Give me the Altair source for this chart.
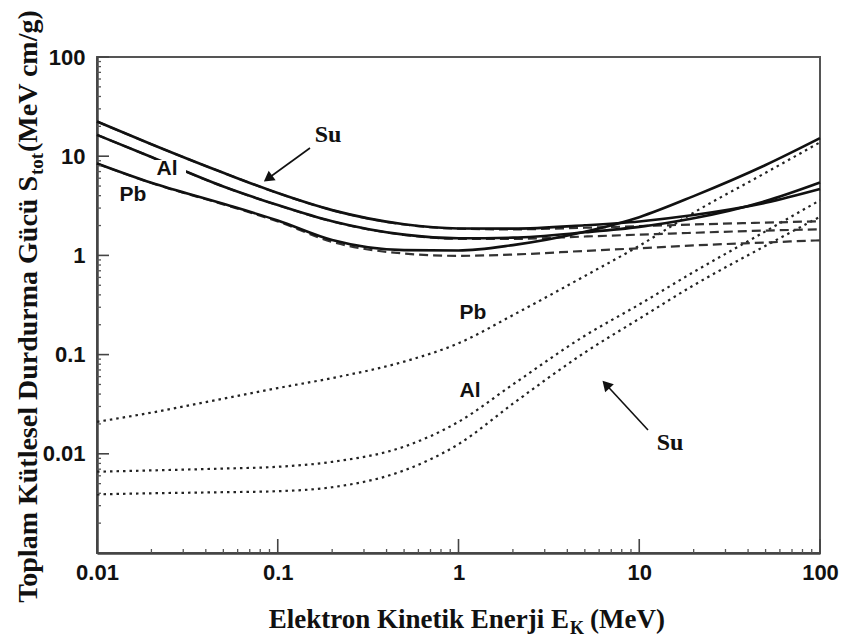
import altair as alt
import pandas as pd

# Electron kinetic energy grid (MeV)
energy = [0.01, 0.02, 0.05, 0.1, 0.2, 0.5, 1, 2, 5, 10, 20, 50, 100]

# Water (Su)
su_total = [22.4, 13.2, 6.8, 4.25, 2.86, 2.06, 1.87, 1.86, 2.01, 2.20, 2.55, 3.39, 4.66]
su_col = [22.4, 13.2, 6.8, 4.25, 2.855, 2.05, 1.86, 1.83, 1.90, 1.97, 2.05, 2.14, 2.21]
su_rad = [0.0039, 0.0040, 0.0041, 0.0042, 0.0046, 0.0068, 0.0125, 0.032, 0.105, 0.23, 0.50, 1.25, 2.45]
# Aluminium (Al)
al_total = [16.4, 9.8, 4.95, 3.22, 2.21, 1.62, 1.49, 1.51, 1.71, 1.94, 2.37, 3.53, 5.43]
al_col = [16.4, 9.8, 4.94, 3.21, 2.20, 1.61, 1.47, 1.465, 1.55, 1.62, 1.69, 1.78, 1.83]
al_rad = [0.0066, 0.0068, 0.0071, 0.0074, 0.0083, 0.0118, 0.021, 0.050, 0.155, 0.32, 0.68, 1.75, 3.6]
# Lead (Pb)
pb_total = [8.45, 5.40, 3.31, 2.25, 1.43, 1.13, 1.12, 1.27, 1.73, 2.43, 3.96, 8.15, 15.2]
pb_col = [8.43, 5.37, 3.27, 2.20, 1.37, 1.045, 0.99, 1.02, 1.11, 1.18, 1.26, 1.35, 1.42]
pb_rad = [0.021, 0.026, 0.036, 0.046, 0.058, 0.085, 0.13, 0.25, 0.62, 1.25, 2.7, 6.8, 13.8]

x_ticks = [0.01, 0.1, 1, 10, 100]
y_ticks = [0.01, 0.1, 1, 10, 100]

series = {
    ("Su", "total"): su_total, ("Su", "col"): su_col, ("Su", "rad"): su_rad,
    ("Al", "total"): al_total, ("Al", "col"): al_col, ("Al", "rad"): al_rad,
    ("Pb", "total"): pb_total, ("Pb", "col"): pb_col, ("Pb", "rad"): pb_rad,
}
rows = []
for (mat, kind), vals in series.items():
    for e, s in zip(energy, vals):
        rows.append({"E": e, "S": s, "material": mat, "kind": kind})
df = pd.DataFrame(rows)

W, H = 723, 496
xscale = alt.Scale(type="log", domain=[0.01, 100], nice=False)
yscale = alt.Scale(type="log", domain=[0.001, 100], nice=False)

LABEL_FONT = "Liberation Sans"
TITLE_FONT = "Liberation Serif"

xaxis = alt.Axis(values=x_ticks, ticks=False, grid=False, title=None,
                 labelExpr="datum.value + ''", labelFont=LABEL_FONT,
                 labelFontWeight="bold", labelFontSize=22, labelColor="#111",
                 labelPadding=9, domainColor="#444", domainWidth=2.5,
                 labelOverlap=False, labelFlush=False)
yaxis = alt.Axis(values=y_ticks, ticks=False, grid=False, title=None,
                 labelExpr="datum.value + ''", labelFont=LABEL_FONT,
                 labelFontWeight="bold", labelFontSize=22, labelColor="#111",
                 labelPadding=12, domainColor="#444", domainWidth=2.5,
                 labelOverlap=False, labelFlush=False)

base = alt.Chart(df)


def curve(kind, width, color, dash=None):
    kw = dict(strokeWidth=width, color=color, interpolate="monotone")
    if dash is not None:
        kw["strokeDash"] = dash
    return base.transform_filter(alt.datum.kind == kind).mark_line(**kw).encode(
        x=alt.X("E:Q", scale=xscale, axis=xaxis),
        y=alt.Y("S:Q", scale=yscale, axis=yaxis),
        detail="material:N",
    )


dotted = curve("rad", 2.2, "#222", [2.5, 4])
dashed = curve("col", 2.2, "#333", [9, 5])
solid = curve("total", 2.6, "#111")

# inward axis ticks
x_minor = [k * 10 ** d for d in range(-2, 2) for k in range(2, 10)]
y_minor = [k * 10 ** d for d in range(-3, 2) for k in range(2, 10)]

xt_major = alt.Chart(pd.DataFrame({"v": x_ticks})).mark_rule(color="#444", strokeWidth=1.6).encode(
    x=alt.X("v:Q", scale=xscale, axis=xaxis), y=alt.value(H), y2=alt.value(H - 14))
xt_minor = alt.Chart(pd.DataFrame({"v": x_minor})).mark_rule(color="#555", strokeWidth=1.3).encode(
    x=alt.X("v:Q", scale=xscale, axis=xaxis), y=alt.value(H), y2=alt.value(H - 4))
yt_major = alt.Chart(pd.DataFrame({"v": y_ticks})).mark_rule(color="#444", strokeWidth=1.6).encode(
    y=alt.Y("v:Q", scale=yscale, axis=yaxis), x=alt.value(0), x2=alt.value(12))
yt_minor = alt.Chart(pd.DataFrame({"v": y_minor})).mark_rule(color="#555", strokeWidth=1.3).encode(
    y=alt.Y("v:Q", scale=yscale, axis=yaxis), x=alt.value(0), x2=alt.value(4))

dummy = alt.Chart(pd.DataFrame({"d": [0]}))


def label(txt, x, y, font, size, **kw):
    return dummy.mark_text(font=font, fontWeight="bold", fontSize=size, color="#111", **kw).encode(
        x=alt.value(x), y=alt.value(y), text=alt.value(txt))


def arrow(x1, y1, x2, y2, hx, hy, ang):
    line = dummy.mark_rule(color="#111", strokeWidth=1.6).encode(
        x=alt.value(x1), y=alt.value(y1), x2=alt.value(x2), y2=alt.value(y2))
    head = dummy.mark_point(shape="triangle-up", filled=True, size=140, angle=ang,
                            color="#111", opacity=1).encode(x=alt.value(hx), y=alt.value(hy))
    return line + head


# white gap behind the "Al" label on the solid Al curve
gap = dummy.mark_rect(color="white").encode(
    x=alt.value(54), x2=alt.value(89), y=alt.value(103), y2=alt.value(121))

annotations = [
    gap,
    label("Al", 70, 112, LABEL_FONT, 21, baseline="middle"),
    label("Pb", 36, 138, LABEL_FONT, 21, baseline="middle"),
    label("Su", 231, 78, TITLE_FONT, 24, baseline="middle"),
    arrow(213, 91, 171, 121.5, 171, 121.5, 234),
    label("Pb", 376, 256, LABEL_FONT, 21, baseline="middle"),
    label("Al", 373, 334, LABEL_FONT, 21, baseline="middle"),
    label("Su", 573, 386, TITLE_FONT, 24, baseline="middle"),
    arrow(551, 373, 509, 327.5, 509, 327.5, 317),
    # x-axis title with subscript
    label("Elektron Kinetik Enerji E", 472, 571, TITLE_FONT, 27, align="right", baseline="alphabetic"),
    label("K", 473, 577, TITLE_FONT, 18, align="left", baseline="alphabetic"),
    label("(MeV)", 493, 571, TITLE_FONT, 27, align="left", baseline="alphabetic"),
    # y-axis title with subscript (rotated)
    label("Toplam Kütlesel Durdurma Gücü S", -60, 119, TITLE_FONT, 28, align="right",
          baseline="alphabetic", angle=270),
    label("tot", -54, 118, TITLE_FONT, 19, align="left", baseline="alphabetic", angle=270),
    label("(MeV cm/g)", -60, 95, TITLE_FONT, 28, align="left", baseline="alphabetic", angle=270),
]

chart = alt.layer(
    dotted, dashed, solid, xt_minor, xt_major, yt_minor, yt_major, *annotations
).properties(
    width=W, height=H,
    padding={"left": 97, "top": 57, "right": 25, "bottom": 88},
    autosize=alt.AutoSizeParams(type="none"),
    background="white",
).configure_view(stroke="#555", strokeWidth=2)

chart.save("out.html", embed_options={"renderer": "svg", "actions": False})
